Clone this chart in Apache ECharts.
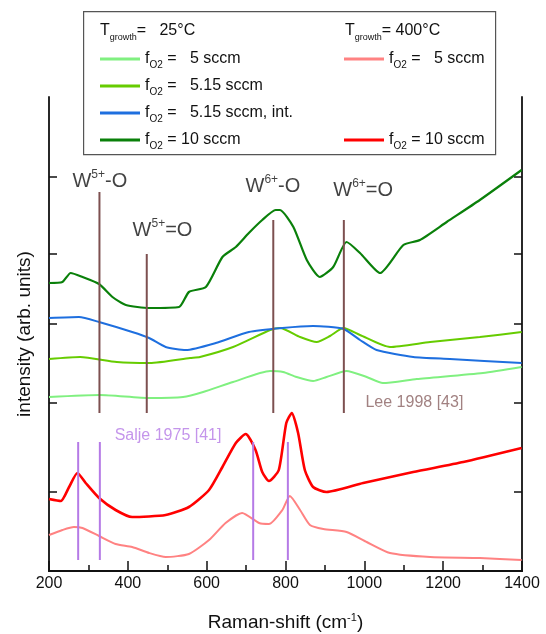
<!DOCTYPE html>
<html>
<head>
<meta charset="utf-8">
<script src="https://cdn.jsdelivr.net/npm/echarts@6/dist/echarts.min.js"></script>
<style>
  html, body { margin: 0; padding: 0; background: #fff; }
  #main { width: 546px; height: 634px; }
</style>
</head>
<body>
<div id="main"></div>
<script>
// spectra, [Raman shift cm-1, intensity arb. units]
var rt5 = [[200,174],[329,176],[456,173],[540,174],[591,179],[667,189],[761,200],[794,199],[828,194],[870,190],[904,194],[955,200],[1006,194],[1047,188],[1133,192],[1301,198],[1399,204]];
var rt515 = [[200,212],[279,214],[372,209],[456,208],[558,213],[583,214],[667,224],[761,241],[786,243],[837,234],[879,229],[913,235],[947,243],[989,236],[1065,224],[1167,229],[1293,234],[1399,239]];
var rt515int = [[200,253],[276,254],[327,249],[411,239],[454,233],[496,224],[547,221],[623,228],[707,239],[792,243],[870,245],[947,242],[989,231],[1031,221],[1124,214],[1217,212],[1399,208]];
var rt10 = [[200,288],[234,289],[255,298],[285,294],[327,287],[361,274],[395,266],[454,263],[530,264],[555,279],[598,284],[640,314],[674,324],[707,338],[741,351],[775,361],[786,361],[820,344],[854,311],[887,294],[921,304],[955,329],[989,318],[1040,298],[1099,326],[1141,331],[1209,349],[1293,371],[1399,401]];
var ht5 = [[200,36],[234,41],[263,44],[285,43],[327,35],[369,27],[411,24],[454,18],[496,14],[555,17],[606,31],[648,48],[690,58],[733,48],[758,47],[792,61],[811,75],[837,61],[862,46],[896,42],[955,39],[1006,29],[1065,18],[1167,14],[1293,13],[1399,11]];
var ht10 = [[200,72],[230,70],[251,84],[272,98],[293,88],[327,73],[369,61],[411,54],[496,56],[555,64],[606,81],[640,104],[674,128],[699,137],[724,121],[741,99],[758,90],[783,101],[802,148],[816,158],[832,138],[849,101],[870,84],[904,79],[997,88],[1124,99],[1251,109],[1399,123]];

// reference peak positions
var leePeaks = [328, 448, 769, 948];
var leeTops = [379, 317, 351, 351];
var leeBottom = 158;
var saljePeaks = [274, 329, 718, 806];
var saljeTop = 129;
var saljeBottom = 11;

var peakLabels = [
  { text: 'W{sup|5+}-O', pos: [329, 390] },
  { text: 'W{sup|5+}=O', pos: [488, 341] },
  { text: 'W{sup|6+}-O', pos: [768, 385] },
  { text: 'W{sup|6+}=O', pos: [997, 381] }
];

var xTicks = { min: 200, max: 1400, step: 200, minor: 100 };
var yTicks = [79, 168, 247, 317, 394];
var yMax = 474;

var font = 'Liberation Sans, Arial, sans-serif';

var names = {
  rt5: 'f{sub|O2} =   5 sccm',
  rt515: 'f{sub|O2} =   5.15 sccm',
  rt515int: 'f{sub|O2} =   5.15 sccm, int.',
  rt10: 'f{sub|O2} = 10 sccm',
  ht5: 'f{sub|O2} =   5 sccm',
  ht10: 'f{sub|O2} = 10 sccm'
};

var legendRich = {
  sub: { fontSize: 10, fontFamily: font, color: '#111', verticalAlign: 'bottom', lineHeight: 22 }
};
var annRich = {
  sup: { fontSize: 12, fontFamily: font, color: '#111', verticalAlign: 'top', lineHeight: 24 }
};

function spectrum(name, data, color, width) {
  return {
    name: name, type: 'line', data: data, showSymbol: false, symbol: 'none', smooth: 0.2,
    lineStyle: { color: color, width: width }, itemStyle: { color: color },
    z: 3, animation: false
  };
}

var series = [
  spectrum('ht5', ht5, '#ff8282', 2),
  spectrum('ht10', ht10, '#ff0000', 2.6),
  spectrum('rt5', rt5, '#80f080', 2),
  spectrum('rt515', rt515, '#66cc00', 2),
  spectrum('rt515int', rt515int, '#1e6fdf', 2),
  spectrum('rt10', rt10, '#0a800a', 2.2)
];

leePeaks.forEach(function (x, i) {
  series.push({
    type: 'line', data: [[x, leeTops[i]], [x, leeBottom]], symbol: 'none',
    lineStyle: { color: '#7d5050', width: 2 }, z: 4, animation: false, silent: true
  });
});
saljePeaks.forEach(function (x) {
  series.push({
    type: 'line', data: [[x, saljeTop], [x, saljeBottom]], symbol: 'none',
    lineStyle: { color: '#b57ae6', width: 2 }, z: 4, animation: false, silent: true
  });
});

series.push({
  type: 'scatter', symbolSize: 0, silent: true, animation: false, z: 5,
  data: peakLabels.map(function (p) { return { value: p.pos, lbl: p.text }; }),
  label: {
    show: true, position: 'inside', fontFamily: font, fontSize: 20, color: '#111',
    lineHeight: 24, rich: annRich,
    formatter: function (p) { return p.data.lbl; }
  }
});
series.push({
  type: 'scatter', symbolSize: 0, silent: true, animation: false, z: 5,
  data: [
    { value: [1127, 168], lbl: 'Lee 1998 [43]', c: '#8a6262' },
    { value: [502, 135], lbl: 'Salje 1975 [41]', c: '#b57ae6' }
  ].map(function (d) {
    return { value: d.value, label: { formatter: d.lbl, color: d.c } };
  }),
  label: { show: true, position: 'inside', fontFamily: font, fontSize: 16 }
});

function legendBlock(items, left, top) {
  return {
    data: items, left: left, top: top, orient: 'vertical', itemGap: 5, padding: 0,
    itemWidth: 40, itemHeight: 3, icon: 'rect', z: 20, selectedMode: false,
    formatter: function (n) { return names[n]; },
    textStyle: { fontFamily: font, fontSize: 16, color: '#111', lineHeight: 22, rich: legendRich }
  };
}

var tickLine = { color: '#111', width: 1.5 };

var chart = echarts.init(document.getElementById('main'));
chart.setOption({
  backgroundColor: '#fff',
  animation: false,
  grid: { left: 49, right: 24, top: 97, bottom: 63, outerBoundsMode: 'none', containLabel: false },
  xAxis: [{
    type: 'value', min: xTicks.min, max: xTicks.max, interval: xTicks.step,
    axisLine: { lineStyle: { color: '#111', width: 1.8 } },
    axisTick: { inside: true, length: 10, lineStyle: tickLine },
    splitLine: { show: false },
    axisLabel: { fontFamily: font, fontSize: 16, color: '#111', margin: 5,
      formatter: function (v) { return String(v); } },
    name: 'Raman-shift (cm{sup|-1})', nameLocation: 'middle', nameGap: 41,
    nameTextStyle: { fontFamily: font, fontSize: 19, color: '#111',
      rich: { sup: { fontSize: 11, fontFamily: font, color: '#111', verticalAlign: 'top', lineHeight: 22 } } }
  }, {
    type: 'value', position: 'top', min: xTicks.min, max: xTicks.max,
    axisLine: { show: true, lineStyle: { color: '#111', width: 1.8 } },
    axisTick: { show: false }, axisLabel: { show: false }, splitLine: { show: false }
  }, {
    type: 'value', position: 'bottom', min: xTicks.min, max: xTicks.max, interval: xTicks.minor,
    axisLine: { show: false },
    axisTick: { show: true, inside: true, length: 6, lineStyle: tickLine },
    axisLabel: { show: false }, splitLine: { show: false }
  }],
  yAxis: [{
    type: 'value', min: 0, max: yMax,
    axisLine: { show: true, lineStyle: { color: '#111', width: 1.8 } },
    axisTick: { show: true, inside: true, length: 8, customValues: yTicks, lineStyle: tickLine },
    axisLabel: { show: false }, splitLine: { show: false },
    name: 'intensity (arb. units)', nameLocation: 'middle', nameGap: 15,
    nameTextStyle: { fontFamily: font, fontSize: 19, color: '#111' }
  }, {
    type: 'value', position: 'right', min: 0, max: yMax,
    axisLine: { show: true, lineStyle: { color: '#111', width: 1.8 } },
    axisTick: { show: true, inside: true, length: 8, customValues: yTicks, lineStyle: tickLine },
    axisLabel: { show: false }, splitLine: { show: false }
  }],
  legend: [
    legendBlock(['rt5', 'rt515', 'rt515int', 'rt10'], 100, 48),
    legendBlock(['ht5'], 344, 48),
    legendBlock(['ht10'], 344, 129)
  ],
  graphic: [
    { type: 'rect', left: 83, top: 11, shape: { width: 412, height: 143 }, z: 10,
      style: { fill: '#fff', stroke: '#555', lineWidth: 1.2 } },
    { type: 'text', left: 100, top: 23, z: 20,
      style: { text: 'T{sub|growth}=   25°C', font: '16px ' + font, fill: '#111',
        rich: { sub: { fontSize: 9, fontFamily: font, fill: '#111', verticalAlign: 'bottom', lineHeight: 22 } } } },
    { type: 'text', left: 345, top: 23, z: 20,
      style: { text: 'T{sub|growth}= 400°C', font: '16px ' + font, fill: '#111',
        rich: { sub: { fontSize: 9, fontFamily: font, fill: '#111', verticalAlign: 'bottom', lineHeight: 22 } } } }
  ],
  series: series
});
</script>
</body>
</html>
